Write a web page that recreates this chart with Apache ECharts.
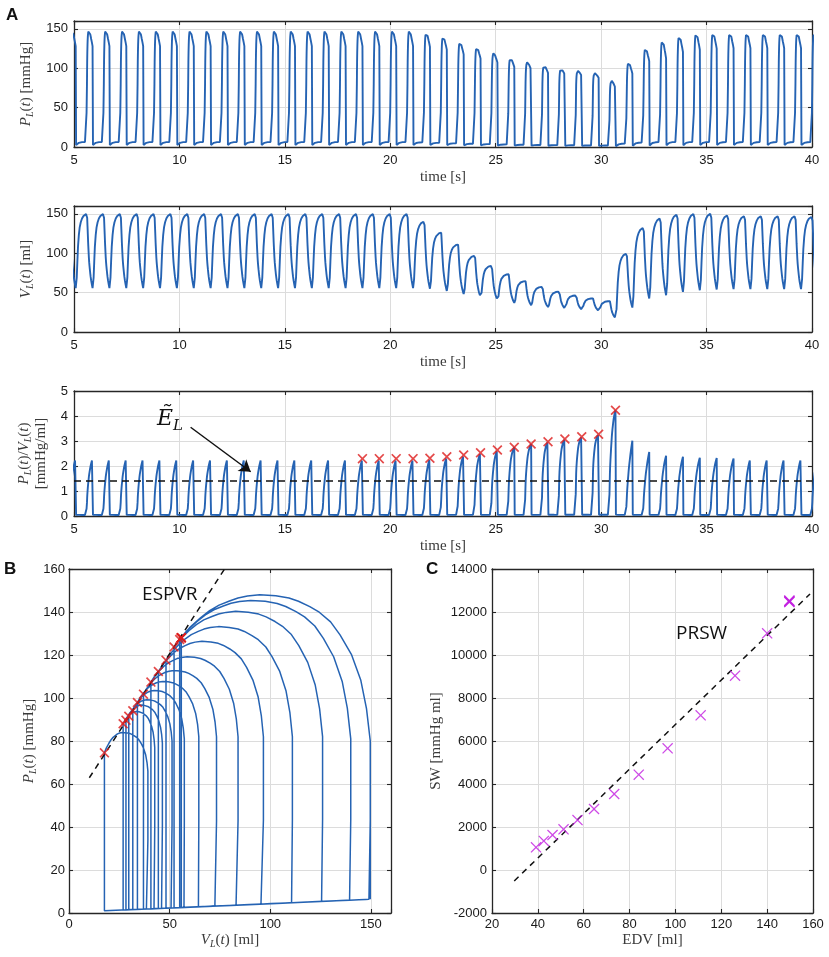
<!DOCTYPE html>
<html>
<head>
<meta charset="utf-8">
<script src="https://cdn.jsdelivr.net/npm/echarts@6/dist/echarts.min.js"></script>
<style>
  html, body { margin: 0; padding: 0; background: #fff; }
  #main { width: 829px; height: 957px; }
</style>
</head>
<body>
<div id="main"></div>
<script>
// ---- beat-by-beat values (beats 6..50, onset every 0.8 s) ----
const PERIOD = 0.8;
const FIRST_ONSET = 4.77;

// end-diastolic / end-systolic volume [ml]
const EDV = [149.7, 149.7, 149.7, 149.7, 149.7, 149.7, 149.7, 149.7, 149.7, 149.7, 149.7,
  149.7, 149.7, 149.7, 149.7, 149.7, 149.7, 149.7, 149.7, 149.7, 149.7,
  140, 126, 111, 96.6, 84, 73.3, 64.5, 57.3, 51.2, 46.4, 42.6, 39.2,
  99.3, 132, 144, 149, 149.8, 150, 148, 147, 147, 147, 147, 146];
const ESV = [55.8, 55.8, 55.8, 55.8, 55.8, 55.8, 55.8, 55.8, 55.8, 55.8, 55.8,
  55.8, 55.8, 55.8, 55.8, 55.8, 55.8, 55.8, 55.8, 55.8, 55.8,
  55.0, 52.2, 48.2, 44.4, 40.7, 37.0, 34.0, 31.7, 29.7, 28.3, 26.9, 17.6,
  31, 42.5, 46.7, 50.9, 53, 54, 54.5, 54.5, 54.5, 54.5, 54.5, 54.5];
// pressures [mmHg]: peak, end-systolic, aortic-valve opening, end-diastolic, minimum
const PMAX = [148, 148, 148, 148, 148, 148, 148, 148, 148, 148, 148,
  148, 148, 148, 148, 148, 148, 148, 148, 148, 148,
  145.4, 140.3, 133.2, 126.4, 119.2, 112.8, 107.7, 103.5, 99.2, 96.7, 93.7, 84,
  107.3, 125.5, 135.3, 141.2, 144.6, 145, 145, 145, 145, 145, 145, 145];
const PES = [128, 128, 128, 128, 128, 128, 128, 128, 128, 128, 128,
  128, 128, 128, 128, 128, 128, 128, 128, 128, 128,
  127.2, 123.7, 117.6, 112.3, 107.4, 101.8, 97.9, 94.1, 91.5, 89.7, 88.0, 74.5,
  93.3, 109, 112.5, 120.6, 123.5, 125, 125.4, 125.4, 125.4, 125.4, 125.4, 125.4];
const POPEN = [80, 80, 80, 80, 80, 80, 80, 80, 80, 80, 80,
  80, 80, 80, 80, 80, 80, 80, 80, 80, 80,
  81, 82, 82, 82, 82, 82, 82, 81, 80, 79, 77, 66,
  68, 74, 77, 79, 80, 80, 80, 80, 80, 80, 80, 80];
const EDP = [6.4, 6.4, 6.4, 6.4, 6.4, 6.4, 6.4, 6.4, 6.4, 6.4, 6.4,
  6.4, 6.4, 6.4, 6.4, 6.4, 6.4, 6.4, 6.4, 6.4, 6.4,
  6.0, 5.4, 4.8, 4.2, 3.7, 3.3, 2.9, 2.6, 2.4, 2.2, 2.0, 1.9,
  4.3, 5.7, 6.2, 6.4, 6.4, 6.4, 6.3, 6.3, 6.3, 6.3, 6.3, 6.2];
const PMIN = [2.5, 2.5, 2.5, 2.5, 2.5, 2.5, 2.5, 2.5, 2.5, 2.5, 2.5,
  2.5, 2.5, 2.5, 2.5, 2.5, 2.5, 2.5, 2.5, 2.5, 2.5,
  2.5, 2.4, 2.2, 2.1, 1.9, 1.8, 1.7, 1.6, 1.5, 1.4, 1.4, 1.0,
  1.5, 2.0, 2.2, 2.3, 2.4, 2.5, 2.5, 2.5, 2.5, 2.5, 2.5, 2.5];

// shape of one beat read off a steady-state cycle (top loop of B)
// systole: time after onset [s], ejected fraction, weights of [EDP, POPEN, PMAX, PES]
const SYS_TAU = [0, 0.025, 0.045, 0.05, 0.055, 0.062, 0.07, 0.077, 0.085, 0.092, 0.10,
  0.108, 0.12, 0.135, 0.15, 0.165, 0.18, 0.20, 0.22, 0.245, 0.28, 0.31];
const SYS_EJECT = [0, 0, 0, 0.02, 0.05, 0.10, 0.16, 0.21, 0.27, 0.32, 0.38,
  0.43, 0.50, 0.585, 0.65, 0.70, 0.745, 0.80, 0.85, 0.90, 0.957, 1];
const SYS_WEIGHT = [[1, 0, 0, 0], [0.5, 0.5, 0, 0], [0, 1, 0, 0], [0, 0.778, 0.222, 0],
  [0, 0.585, 0.415, 0], [0, 0.407, 0.593, 0], [0, 0.274, 0.726, 0], [0, 0.185, 0.815, 0],
  [0, 0.119, 0.881, 0], [0, 0.081, 0.919, 0], [0, 0.044, 0.956, 0], [0, 0.022, 0.978, 0],
  [0, 0.007, 0.993, 0], [0, 0, 1, 0], [0, 0, 0.971, 0.029], [0, 0, 0.926, 0.074],
  [0, 0, 0.857, 0.143], [0, 0, 0.76, 0.24], [0, 0, 0.63, 0.37], [0, 0, 0.457, 0.543],
  [0, 0, 0.23, 0.77], [0, 0, 0, 1]];
// relaxation + filling: time after onset [s], filled fraction
const FILL_TAU = [0.33, 0.36, 0.39, 0.42, 0.46, 0.50, 0.55, 0.61, 0.68, 0.75];
const FILL_FRAC = [0, 0.14, 0.36, 0.56, 0.72, 0.82, 0.89, 0.94, 0.975, 0.993];

// occlusion beats shown in B and C (beat 23..38)
const LOOP_FROM = 17, LOOP_TO = 32;
const SW = [12530, 12510, 12480, 12460, 11009, 9040, 7195, 5660, 4433, 3535, 2837, 2325, 1892, 1628, 1350, 1055];

// fitted lines
const EL_T = [5, 40], EL_VALUE = 1.4;
const ESPVR_V = [10.1, 77.3], ESPVR_P = [62.9, 160];
const PRSW_EDV = [29.7, 158.7], PRSW_SW = [-510, 12840];

// ---- build series ----
const pData = [], vData = [], rData = [], loopData = [], esCross = [], rCross = [], swPts = [];
for (let i = 0; i < EDV.length; i++) {
  const t0 = FIRST_ONSET + i * PERIOD;
  const n = Math.min(i + 1, EDV.length - 1);
  const inLoop = i >= LOOP_FROM && i <= LOOP_TO;
  const add = (tau, v, p) => {
    const t = +(t0 + tau).toFixed(3);
    pData.push([t, p]);
    vData.push([t, v]);
    rData.push([t, p / v]);
    if (inLoop) loopData.push([v, p]);
  };
  SYS_TAU.forEach((tau, j) => {
    const w = SYS_WEIGHT[j];
    const p = w[0] * EDP[i] + w[1] * POPEN[i] + w[2] * PMAX[i] + w[3] * PES[i];
    const v = EDV[i] - SYS_EJECT[j] * (EDV[i] - ESV[i]);
    add(tau, v, p);
  });
  FILL_TAU.forEach((tau, j) => {
    const f = FILL_FRAC[j];
    add(tau, ESV[i] + f * (EDV[n] - ESV[i]), PMIN[i] + f * (EDP[n] - PMIN[i]));
  });
  if (inLoop) {
    loopData.push([EDV[n], EDP[n]]);
    esCross.push([ESV[i], PES[i]]);
    rCross.push([+(t0 + SYS_TAU[SYS_TAU.length - 1]).toFixed(3), PES[i] / ESV[i]]);
    swPts.push([EDV[i], SW[i - LOOP_FROM]]);
  }
}

// ---- styling ----
const BLUE = '#2563b3';
const RED = '#dd1c1c';
const MAGENTA = '#c21de0';
const tickFont = { fontFamily: 'Liberation Sans', fontSize: 13, color: '#1a1a1a' };
const serif = 'Liberation Serif';
const nameRich = {
  i: { fontFamily: serif, fontStyle: 'italic', fontSize: 15, color: '#3a3a3a' },
  s: { fontFamily: serif, fontStyle: 'italic', fontSize: 10, color: '#3a3a3a', padding: [8, 0, 0, 0] },
  n: { fontFamily: serif, fontSize: 15, color: '#3a3a3a' }
};
const nameStyle = { fontFamily: serif, fontSize: 15, color: '#3a3a3a', rich: nameRich, lineHeight: 17 };
const CROSS = 'path://M0,1.2 L1.2,0 L5,3.8 L8.8,0 L10,1.2 L6.2,5 L10,8.8 L8.8,10 L5,6.2 L1.2,10 L0,8.8 L3.8,5 Z';
const CROSS_THIN = 'path://M0,0.8 L0.8,0 L5,4.2 L9.2,0 L10,0.8 L5.8,5 L10,9.2 L9.2,10 L5,5.8 L0.8,10 L0,9.2 L4.2,5 Z';

const grids = [
  { left: 74, top: 21, width: 738, height: 126 },
  { left: 74, top: 206, width: 738, height: 126 },
  { left: 74, top: 391, width: 738, height: 125 },
  { left: 69, top: 569, width: 322, height: 344 },
  { left: 492, top: 569, width: 321, height: 344 }
].map(g => Object.assign(g, { containLabel: false, outerBoundsMode: 'none' }));

function labelFmt(min, max, interval) {
  return v => ((max - min) % interval !== 0 && Math.abs(v - max) < 1e-9) ? '' : String(v);
}
const lineColor = '#262626';
function axis(dim, g, min, max, interval, name, nameGap, margin) {
  return {
    type: 'value', gridIndex: g, min, max, interval,
    position: dim === 'x' ? 'bottom' : 'left',
    name, nameLocation: 'middle', nameGap, nameTextStyle: nameStyle,
    axisLine: { onZero: false, lineStyle: { color: lineColor, width: 1.3 } },
    axisTick: { inside: true, length: 4, lineStyle: { color: lineColor, width: 1.1 } },
    axisLabel: Object.assign({ margin, formatter: labelFmt(min, max, interval) }, tickFont),
    splitLine: { show: true, lineStyle: { color: '#dcdcdc', width: 1 } }
  };
}
function mirror(dim, g, min, max, interval) {
  return {
    type: 'value', gridIndex: g, min, max, interval,
    position: dim === 'x' ? 'top' : 'right',
    axisLine: { onZero: false, lineStyle: { color: lineColor, width: 1.3 } },
    axisTick: { inside: true, length: 4, lineStyle: { color: lineColor, width: 1.1 } },
    axisLabel: { show: false }, splitLine: { show: false }
  };
}

const plName = '{i|P}{s|L}{n|(}{i|t}{n|) [mmHg]}';
const xSpec = [
  [0, 5, 40, 5, 'time [s]', 22, 7],
  [1, 5, 40, 5, 'time [s]', 22, 7],
  [2, 5, 40, 5, 'time [s]', 22, 7],
  [3, 0, 160, 50, '{i|V}{s|L}{n|(}{i|t}{n|) [ml]}', 19, 5],
  [4, 20, 160, 20, 'EDV [ml]', 19, 5]
];
const ySpec = [
  [0, 0, 160, 50, plName, 32, 6],
  [1, 0, 160, 50, '{i|V}{s|L}{n|(}{i|t}{n|) [ml]}', 32, 6],
  [2, 0, 5, 1, '{i|P}{s|L}{n|(}{i|t}{n|)/}{i|V}{s|L}{n|(}{i|t}{n|)}\n{n|[mmHg/ml]}', 17, 6],
  [3, 0, 160, 20, plName, 31, 4],
  [4, -2000, 14000, 2000, 'SW [mmHg ml]', 47, 5]
];

const xAxis = xSpec.map(s => axis('x', ...s)).concat(xSpec.map(s => mirror('x', s[0], s[1], s[2], s[3])));
const yAxis = ySpec.map(s => axis('y', ...s)).concat(ySpec.map(s => mirror('y', s[0], s[1], s[2], s[3])));

const textLabel = (text, size) => ({
  show: true, position: 'inside', formatter: text,
  fontFamily: 'Open Sans', fontSize: size, color: '#111'
});

const series = [
  { type: 'line', xAxisIndex: 0, yAxisIndex: 0, data: pData, showSymbol: false,
    lineStyle: { color: BLUE, width: 1.9 } },
  { type: 'line', xAxisIndex: 1, yAxisIndex: 1, data: vData, showSymbol: false,
    lineStyle: { color: BLUE, width: 1.9 } },
  { type: 'line', xAxisIndex: 2, yAxisIndex: 2, data: rData, showSymbol: false,
    lineStyle: { color: BLUE, width: 1.9 } },
  { type: 'line', xAxisIndex: 2, yAxisIndex: 2, showSymbol: false,
    data: EL_T.map(t => [t, EL_VALUE]),
    lineStyle: { color: '#111', width: 1.6, type: [7, 5] },
    markLine: {
      silent: true, symbol: ['none', 'arrow'], symbolSize: 11,
      lineStyle: { color: '#111', width: 1.5, type: 'solid' }, label: { show: false },
      data: [[{ coord: [10.53, 3.55] }, { coord: [13.38, 1.77] }]]
    },
    markPoint: {
      silent: true, symbol: 'circle', symbolSize: 1, itemStyle: { color: 'transparent' },
      data: [{ coord: [9.55, 3.85] }],
      label: {
        show: true, position: 'inside', formatter: '{e|Ẽ}{s|L}',
        rich: {
          e: { fontFamily: 'DejaVu Serif', fontStyle: 'italic', fontSize: 22, color: '#111' },
          s: { fontFamily: 'DejaVu Serif', fontStyle: 'italic', fontSize: 15, color: '#111', padding: [12, 0, 0, 0] }
        }
      }
    } },
  { type: 'scatter', xAxisIndex: 2, yAxisIndex: 2, data: rCross, symbol: CROSS, symbolSize: 10,
    itemStyle: { color: RED }, z: 5 },
  { type: 'line', xAxisIndex: 3, yAxisIndex: 3, data: loopData, showSymbol: false,
    lineStyle: { color: BLUE, width: 1.5 } },
  { type: 'line', xAxisIndex: 3, yAxisIndex: 3, showSymbol: false,
    data: ESPVR_V.map((v, i) => [v, ESPVR_P[i]]),
    lineStyle: { color: '#111', width: 1.5, type: [6, 5] },
    markPoint: {
      silent: true, symbol: 'circle', symbolSize: 1, itemStyle: { color: 'transparent' },
      data: [{ coord: [50.1, 148.1] }], label: textLabel('ESPVR', 19)
    } },
  { type: 'scatter', xAxisIndex: 3, yAxisIndex: 3, data: esCross, symbol: CROSS, symbolSize: 10,
    itemStyle: { color: RED }, z: 5 },
  { type: 'line', xAxisIndex: 4, yAxisIndex: 4, showSymbol: false,
    data: PRSW_EDV.map((v, i) => [v, PRSW_SW[i]]),
    lineStyle: { color: '#111', width: 1.5, type: [6, 5] },
    markPoint: {
      silent: true, symbol: 'circle', symbolSize: 1, itemStyle: { color: 'transparent' },
      data: [{ coord: [111.4, 10977] }], label: textLabel('PRSW', 19)
    } },
  { type: 'scatter', xAxisIndex: 4, yAxisIndex: 4, data: swPts, symbol: CROSS_THIN, symbolSize: 11,
    itemStyle: { color: MAGENTA }, z: 5 }
];

const letter = (text, left, top) => ({
  type: 'text', left, top,
  style: { text, fontFamily: 'Liberation Sans', fontWeight: 'bold', fontSize: 17, fill: '#111' }
});

const chart = echarts.init(document.getElementById('main'), null, { renderer: 'canvas' });
chart.setOption({
  animation: false,
  backgroundColor: '#fff',
  grid: grids,
  xAxis, yAxis, series,
  graphic: [letter('A', 6, 7), letter('B', 4, 561), letter('C', 426, 561)]
});
</script>
</body>
</html>
